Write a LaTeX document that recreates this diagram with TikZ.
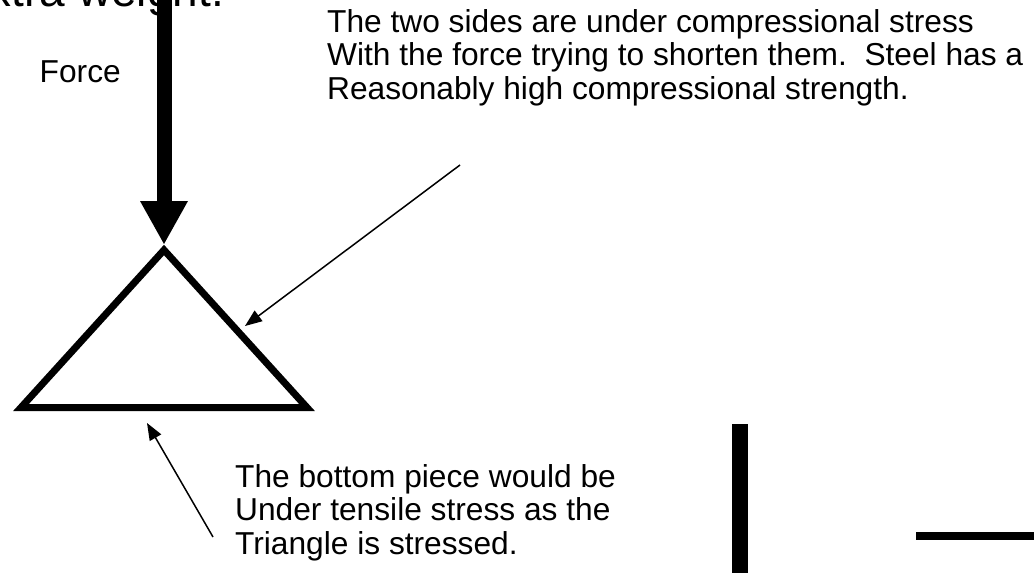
\documentclass[tikz,border=0pt]{standalone}
\usepackage{fontspec}
\setmainfont{Liberation Sans}
\usetikzlibrary{arrows.meta}
\begin{document}
\begin{tikzpicture}[x=1pt,y=-1pt,
  lbl/.style={inner sep=0pt, anchor=base west, font=\fontsize{31.7}{33.5}\selectfont},
  pointer/.style={line width=1.5pt, -{Triangle[length=17pt,width=13pt]}},
  member/.style={line width=7pt, line join=miter},
  forcearrow/.style={line width=15pt, -{Triangle[length=43pt,width=48pt,line width=0pt]}},
  bar/.style={fill=black}]
\clip (0,0) rectangle (1034,573);
% title fragment
\node[lbl, font=\fontsize{46}{50}\selectfont] (title) at (-37,6) {extra weight.};
% force label
\node[lbl] (force) at (39.5,82) {Force};
% triangle
\coordinate (A) at (164,250);
\coordinate (B) at (21,407.5);
\coordinate (C) at (307,407.5);
\draw[member] (A) -- (B) -- (C) -- cycle;
% force arrow
\coordinate (ftop) at (164,-10);
\coordinate (ftip) at (164,244);
\draw[forcearrow] (ftop) -- (ftip);
% top-right text
\node[lbl] (c1) at (327,32.3) {The two sides are under compressional stress};
\node[lbl] (c2) at (327,65.7) {With the force trying to shorten them.\ \ Steel has a};
\node[lbl] (c3) at (327,99.3) {Reasonably high compressional strength.};
% bottom text
\node[lbl] (t1) at (235,487.3) {The bottom piece would be};
\node[lbl] (t2) at (235,520.7) {Under tensile stress as the};
\node[lbl] (t3) at (235,554) {Triangle is stressed.};
% pointers
\coordinate (cs) at (460,165);
\coordinate (cd) at (245,326);
\draw[pointer] (cs) -- (cd);
\coordinate (ts) at (213,537);
\coordinate (td) at (147,423);
\draw[pointer] (ts) -- (td);
% bars
\fill[bar] (732,424) rectangle (748,580);
\fill[bar] (916,532) rectangle (1040,540);
\end{tikzpicture}
\end{document}
